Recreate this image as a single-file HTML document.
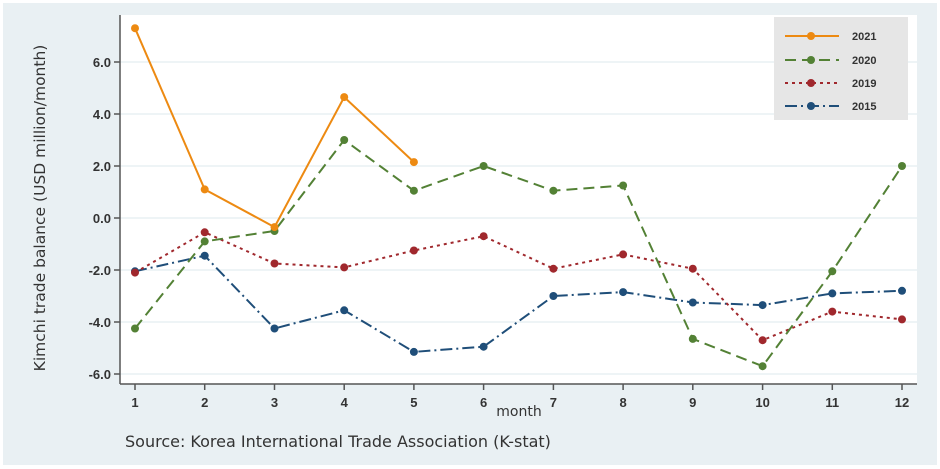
<!DOCTYPE html>
<html><head><meta charset="utf-8"><style>
html,body{margin:0;padding:0;background:#fff}
svg{display:block}
text{font-family:"Liberation Sans",sans-serif}
.dv{font-family:"DejaVu Sans",sans-serif}
</style></head><body>
<svg width="940" height="469" viewBox="0 0 940 469" xmlns="http://www.w3.org/2000/svg">
<rect x="0" y="0" width="940" height="469" fill="#ffffff"/>
<rect x="3" y="3" width="934" height="462" fill="#e9f0f3"/>
<rect x="120" y="15" width="797" height="369" fill="#ffffff"/>
<g stroke="#e3edf1" stroke-width="1.2">
<line x1="120" x2="917" y1="62" y2="62"/><line x1="120" x2="917" y1="114" y2="114"/>
<line x1="120" x2="917" y1="166" y2="166"/><line x1="120" x2="917" y1="218" y2="218"/>
<line x1="120" x2="917" y1="270" y2="270"/><line x1="120" x2="917" y1="322" y2="322"/>
<line x1="120" x2="917" y1="374" y2="374"/>
</g>
<g stroke="#555" stroke-width="1.5">
<line x1="120" y1="15" x2="120" y2="384"/><line x1="120" y1="384" x2="917" y2="384"/>
<line x1="114" x2="120" y1="62" y2="62"/><line x1="114" x2="120" y1="114" y2="114"/>
<line x1="114" x2="120" y1="166" y2="166"/><line x1="114" x2="120" y1="218" y2="218"/>
<line x1="114" x2="120" y1="270" y2="270"/><line x1="114" x2="120" y1="322" y2="322"/>
<line x1="114" x2="120" y1="374" y2="374"/>
<line y1="384" y2="390" x1="135" x2="135"/><line y1="384" y2="390" x1="204.7" x2="204.7"/>
<line y1="384" y2="390" x1="274.5" x2="274.5"/><line y1="384" y2="390" x1="344.2" x2="344.2"/>
<line y1="384" y2="390" x1="413.9" x2="413.9"/><line y1="384" y2="390" x1="483.6" x2="483.6"/>
<line y1="384" y2="390" x1="553.4" x2="553.4"/><line y1="384" y2="390" x1="623.1" x2="623.1"/>
<line y1="384" y2="390" x1="692.8" x2="692.8"/><line y1="384" y2="390" x1="762.6" x2="762.6"/>
<line y1="384" y2="390" x1="832.3" x2="832.3"/><line y1="384" y2="390" x1="902" x2="902"/>
</g>
<g font-size="13" font-weight="bold" fill="#333" text-anchor="end">
<text x="111" y="67">6.0</text><text x="111" y="119">4.0</text><text x="111" y="171">2.0</text>
<text x="111" y="223">0.0</text><text x="111" y="275">-2.0</text><text x="111" y="327">-4.0</text>
<text x="111" y="379">-6.0</text>
</g>
<g font-size="13" font-weight="bold" fill="#333" text-anchor="middle">
<text x="135" y="407">1</text><text x="204.7" y="407">2</text><text x="274.5" y="407">3</text>
<text x="344.2" y="407">4</text><text x="413.9" y="407">5</text><text x="483.6" y="407">6</text>
<text x="553.4" y="407">7</text><text x="623.1" y="407">8</text><text x="692.8" y="407">9</text>
<text x="762.6" y="407">10</text><text x="832.3" y="407">11</text><text x="902" y="407">12</text>
</g>
<text class="dv" x="519" y="416" font-size="14" fill="#333" text-anchor="middle">month</text>
<text class="dv" transform="translate(45,208) rotate(-90)" font-size="15.5" fill="#333" text-anchor="middle">Kimchi trade balance (USD million/month)</text>
<text class="dv" x="125" y="447" font-size="16" fill="#333">Source: Korea International Trade Association (K-stat)</text>

<polyline fill="none" stroke="#1f4e79" stroke-width="2" stroke-dasharray="12,4,2,4" points="135,271.3 204.7,255.7 274.5,328.5 344.2,310.3 413.9,351.9 483.6,346.7 553.4,296 623.1,292.1 692.8,302.5 762.6,305.1 832.3,293.4 902,290.8"/>
<g fill="#1f4e79"><circle cx="135" cy="271.3" r="4"/><circle cx="204.7" cy="255.7" r="4"/><circle cx="274.5" cy="328.5" r="4"/><circle cx="344.2" cy="310.3" r="4"/><circle cx="413.9" cy="351.9" r="4"/><circle cx="483.6" cy="346.7" r="4"/><circle cx="553.4" cy="296" r="4"/><circle cx="623.1" cy="292.1" r="4"/><circle cx="692.8" cy="302.5" r="4"/><circle cx="762.6" cy="305.1" r="4"/><circle cx="832.3" cy="293.4" r="4"/><circle cx="902" cy="290.8" r="4"/></g>
<polyline fill="none" stroke="#a0282d" stroke-width="2" stroke-dasharray="3,4" points="135,272.6 204.7,232.3 274.5,263.5 344.2,267.4 413.9,250.5 483.6,236.2 553.4,268.7 623.1,254.4 692.8,268.7 762.6,340.2 832.3,311.6 902,319.4"/>
<g fill="#a0282d"><circle cx="135" cy="272.6" r="4"/><circle cx="204.7" cy="232.3" r="4"/><circle cx="274.5" cy="263.5" r="4"/><circle cx="344.2" cy="267.4" r="4"/><circle cx="413.9" cy="250.5" r="4"/><circle cx="483.6" cy="236.2" r="4"/><circle cx="553.4" cy="268.7" r="4"/><circle cx="623.1" cy="254.4" r="4"/><circle cx="692.8" cy="268.7" r="4"/><circle cx="762.6" cy="340.2" r="4"/><circle cx="832.3" cy="311.6" r="4"/><circle cx="902" cy="319.4" r="4"/></g>
<polyline fill="none" stroke="#538135" stroke-width="2" stroke-dasharray="11,6" points="135,328.5 204.7,241.4 274.5,231 344.2,140 413.9,190.7 483.6,166 553.4,190.7 623.1,185.5 692.8,338.9 762.6,366.2 832.3,271.3 902,166"/>
<g fill="#538135"><circle cx="135" cy="328.5" r="4"/><circle cx="204.7" cy="241.4" r="4"/><circle cx="274.5" cy="231" r="4"/><circle cx="344.2" cy="140" r="4"/><circle cx="413.9" cy="190.7" r="4"/><circle cx="483.6" cy="166" r="4"/><circle cx="553.4" cy="190.7" r="4"/><circle cx="623.1" cy="185.5" r="4"/><circle cx="692.8" cy="338.9" r="4"/><circle cx="762.6" cy="366.2" r="4"/><circle cx="832.3" cy="271.3" r="4"/><circle cx="902" cy="166" r="4"/></g>
<polyline fill="none" stroke="#ed8a12" stroke-width="2" points="135,28.2 204.7,189.4 274.5,227.1 344.2,97.1 413.9,162.1"/>
<g fill="#ed8a12"><circle cx="135" cy="28.2" r="4"/><circle cx="204.7" cy="189.4" r="4"/><circle cx="274.5" cy="227.1" r="4"/><circle cx="344.2" cy="97.1" r="4"/><circle cx="413.9" cy="162.1" r="4"/></g>

<rect x="774" y="17" width="134" height="103" fill="#e6e6e6"/>
<line x1="785" x2="839" y1="36" y2="36" stroke="#ed8a12" stroke-width="2"/><circle cx="811" cy="36" r="4" fill="#ed8a12"/>
<line x1="785" x2="839" y1="60" y2="60" stroke="#538135" stroke-width="2" stroke-dasharray="11,6"/><circle cx="811" cy="60" r="4" fill="#538135"/>
<line x1="785" x2="839" y1="83" y2="83" stroke="#a0282d" stroke-width="2" stroke-dasharray="3,4"/><circle cx="811" cy="83" r="4" fill="#a0282d"/>
<line x1="785" x2="839" y1="106" y2="106" stroke="#1f4e79" stroke-width="2" stroke-dasharray="12,4,2,4"/><circle cx="811" cy="106" r="4" fill="#1f4e79"/>
<g font-size="11" font-weight="bold" fill="#333">
<text x="852" y="40">2021</text><text x="852" y="64">2020</text><text x="852" y="87">2019</text><text x="852" y="110">2015</text>
</g>
</svg>
</body></html>
